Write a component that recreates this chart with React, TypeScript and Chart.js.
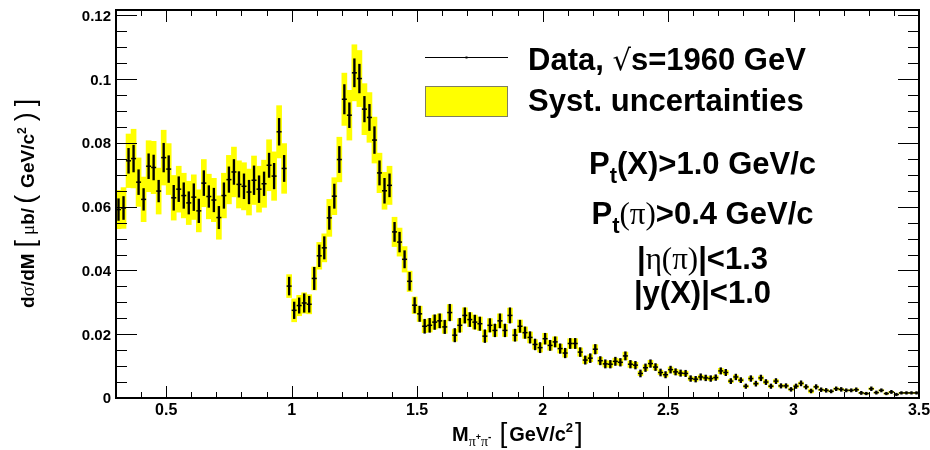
import { useEffect, useRef } from 'react';
import { Chart, registerables } from 'chart.js';

Chart.register(...registerables);

// Histogram binning of the pi+pi- invariant mass (GeV/c^2)
const MASS_MIN = 0.3;
const MASS_MAX = 3.5;
const BIN_WIDTH = 0.02;
const SIGMA_MAX = 0.1217;

// dsigma/dM in microbarn per GeV/c^2, one value per 20 MeV bin (0.30 - 3.50)
const crossSection = [
  0.0591, 0.0596, 0.0744, 0.0751, 0.0677, 0.0623, 0.0727, 0.0723, 0.0649, 0.0754,
  0.0718, 0.0628, 0.0655, 0.0635, 0.0612, 0.0630, 0.0587, 0.0674, 0.0632, 0.0621,
  0.0566, 0.0635, 0.0685, 0.0709, 0.0670, 0.0664, 0.0646, 0.0683, 0.0655, 0.0672,
  0.0730, 0.0696, 0.0835, 0.0720, 0.0351, 0.0275, 0.0290, 0.0298, 0.0294, 0.0375,
  0.0446, 0.0471, 0.0565, 0.0633, 0.0748, 0.0937, 0.0887, 0.1020, 0.1002, 0.0906,
  0.0880, 0.0809, 0.0706, 0.0650, 0.0667, 0.0521, 0.0489, 0.0435, 0.0366, 0.0291,
  0.0264, 0.0225, 0.0228, 0.0238, 0.0242, 0.0223, 0.0268, 0.0197, 0.0228, 0.0259,
  0.0246, 0.0238, 0.0233, 0.0194, 0.0228, 0.0212, 0.0242, 0.0212, 0.0259, 0.0197,
  0.0225, 0.0205, 0.0190, 0.0168, 0.0158, 0.0186, 0.0165, 0.0176, 0.0155, 0.0141,
  0.0171, 0.0171, 0.0144, 0.0119, 0.0125, 0.0153, 0.0117, 0.0107, 0.0106, 0.0115,
  0.0112, 0.0132, 0.0106, 0.0103, 0.0077, 0.0095, 0.0108, 0.0097, 0.0080, 0.0073,
  0.0089, 0.0082, 0.0078, 0.0077, 0.0061, 0.0059, 0.0066, 0.0063, 0.0061, 0.0064,
  0.0085, 0.0080, 0.0053, 0.0066, 0.0056, 0.0037, 0.0061, 0.0045, 0.0063, 0.0050,
  0.0037, 0.0053, 0.0038, 0.0038, 0.0027, 0.0037, 0.0046, 0.0035, 0.0022, 0.0035,
  0.0026, 0.0024, 0.0021, 0.0029, 0.0027, 0.0024, 0.0024, 0.0026, 0.0016, 0.0014,
  0.0029, 0.0017, 0.0024, 0.0014, 0.0019, 0.0011, 0.0016, 0.0016, 0.0016, 0.0016,
];

// Statistical uncertainty per bin
const statError = [
  0.0034, 0.0036, 0.0039, 0.0042, 0.0039, 0.0034, 0.0039, 0.0039, 0.0034, 0.0045,
  0.0042, 0.0039, 0.0039, 0.0040, 0.0035, 0.0042, 0.0037, 0.0039, 0.0034, 0.0037,
  0.0035, 0.0040, 0.0040, 0.0039, 0.0040, 0.0039, 0.0037, 0.0045, 0.0042, 0.0037,
  0.0038, 0.0040, 0.0042, 0.0041, 0.0028, 0.0026, 0.0024, 0.0029, 0.0025, 0.0035,
  0.0034, 0.0035, 0.0036, 0.0038, 0.0041, 0.0046, 0.0039, 0.0044, 0.0045, 0.0040,
  0.0041, 0.0042, 0.0038, 0.0039, 0.0036, 0.0030, 0.0031, 0.0027, 0.0028, 0.0024,
  0.0024, 0.0022, 0.0022, 0.0023, 0.0022, 0.0021, 0.0026, 0.0021, 0.0022, 0.0024,
  0.0022, 0.0022, 0.0021, 0.0020, 0.0021, 0.0020, 0.0022, 0.0020, 0.0024, 0.0019,
  0.0019, 0.0018, 0.0018, 0.0017, 0.0016, 0.0017, 0.0016, 0.0016, 0.0015, 0.0015,
  0.0016, 0.0016, 0.0014, 0.0013, 0.0014, 0.0015, 0.0013, 0.0013, 0.0012, 0.0013,
  0.0012, 0.0013, 0.0012, 0.0012, 0.0011, 0.0012, 0.0012, 0.0011, 0.0011, 0.0010,
  0.0011, 0.0010, 0.0010, 0.0010, 0.0009, 0.0009, 0.0010, 0.0009, 0.0009, 0.0009,
  0.0010, 0.0010, 0.0008, 0.0009, 0.0008, 0.0007, 0.0009, 0.0008, 0.0009, 0.0008,
  0.0007, 0.0008, 0.0007, 0.0007, 0.0006, 0.0007, 0.0008, 0.0007, 0.0006, 0.0007,
  0.0006, 0.0006, 0.0005, 0.0006, 0.0006, 0.0005, 0.0005, 0.0006, 0.0005, 0.0004,
  0.0006, 0.0005, 0.0005, 0.0004, 0.0005, 0.0004, 0.0004, 0.0004, 0.0004, 0.0004,
];

// Systematic uncertainty per bin
const systError = [
  0.0060, 0.0064, 0.0084, 0.0092, 0.0076, 0.0070, 0.0080, 0.0082, 0.0072, 0.0086,
  0.0080, 0.0070, 0.0072, 0.0070, 0.0068, 0.0070, 0.0066, 0.0074, 0.0070, 0.0068,
  0.0068, 0.0070, 0.0076, 0.0078, 0.0074, 0.0074, 0.0072, 0.0076, 0.0072, 0.0074,
  0.0080, 0.0076, 0.0082, 0.0078, 0.0036, 0.0036, 0.0032, 0.0032, 0.0030, 0.0036,
  0.0042, 0.0044, 0.0058, 0.0058, 0.0070, 0.0082, 0.0078, 0.0088, 0.0088, 0.0080,
  0.0078, 0.0072, 0.0062, 0.0058, 0.0060, 0.0046, 0.0044, 0.0040, 0.0032, 0.0026,
  0.0024, 0.0020, 0.0021, 0.0022, 0.0022, 0.0020, 0.0025, 0.0019, 0.0021, 0.0024,
  0.0022, 0.0022, 0.0021, 0.0018, 0.0021, 0.0019, 0.0022, 0.0019, 0.0023, 0.0018,
  0.0020, 0.0018, 0.0017, 0.0015, 0.0014, 0.0017, 0.0015, 0.0016, 0.0014, 0.0013,
  0.0015, 0.0015, 0.0013, 0.0011, 0.0011, 0.0014, 0.0011, 0.0010, 0.0010, 0.0010,
  0.0010, 0.0012, 0.0010, 0.0009, 0.0007, 0.0009, 0.0010, 0.0009, 0.0007, 0.0007,
  0.0008, 0.0008, 0.0007, 0.0007, 0.0006, 0.0006, 0.0006, 0.0006, 0.0006, 0.0006,
  0.0008, 0.0007, 0.0005, 0.0006, 0.0005, 0.0004, 0.0006, 0.0004, 0.0006, 0.0005,
  0.0004, 0.0005, 0.0004, 0.0004, 0.0003, 0.0004, 0.0004, 0.0003, 0.0006, 0.0003,
  0.0003, 0.0003, 0.0002, 0.0003, 0.0003, 0.0002, 0.0002, 0.0003, 0.0002, 0.0002,
  0.0003, 0.0002, 0.0002, 0.0002, 0.0002, 0.0001, 0.0002, 0.0002, 0.0002, 0.0002,
];

const massTicks = [0.5, 1, 1.5, 2, 2.5, 3, 3.5];
const massTickLabels = ['0.5', '1', '1.5', '2', '2.5', '3', '3.5'];
const sigmaTicks = [0, 0.02, 0.04, 0.06, 0.08, 0.1, 0.12];
const sigmaTickLabels = ['0', '0.02', '0.04', '0.06', '0.08', '0.1', '0.12'];

const binCenters = crossSection.map((_, i) => +(MASS_MIN + BIN_WIDTH * (i + 0.5)).toFixed(3));

const SANS = '"Liberation Sans", Arial, Helvetica, sans-serif';
const SERIF = '"Liberation Serif", "Times New Roman", serif';
const bold = (px: number) => `bold ${px}px ${SANS}`;
const greek = (px: number) => `${px}px ${SERIF}`;
const bracket = (px: number) => `${px}px ${SANS}`;

type Run = { text: string; font: string; dy?: number; gap?: number };

function runsWidth(ctx: CanvasRenderingContext2D, runs: Run[]) {
  let w = 0;
  for (const r of runs) {
    ctx.font = r.font;
    w += (r.gap ?? 0) + ctx.measureText(r.text).width;
  }
  return w;
}

function drawRuns(
  ctx: CanvasRenderingContext2D,
  runs: Run[],
  x: number,
  y: number,
  align: 'left' | 'center' | 'right' = 'left',
) {
  const w = runsWidth(ctx, runs);
  let cx = align === 'center' ? x - w / 2 : align === 'right' ? x - w : x;
  ctx.textAlign = 'left';
  ctx.textBaseline = 'alphabetic';
  for (const r of runs) {
    cx += r.gap ?? 0;
    ctx.font = r.font;
    ctx.fillText(r.text, cx, y + (r.dy ?? 0));
    cx += ctx.measureText(r.text).width;
  }
}

// Frame, inward ticks, labels, legend and cut annotations in the ROOT style
const rootStyle = {
  id: 'rootStyle',
  afterDraw(chart: any) {
    const { ctx, chartArea: a, scales } = chart;
    const xs = scales.x;
    const ys = scales.y;
    ctx.save();

    // tick marks on all four sides
    ctx.strokeStyle = '#000';
    ctx.lineWidth = 1;
    ctx.beginPath();
    for (let k = 4; k <= 34; k++) {
      const px = Math.round(xs.getPixelForValue(k / 10)) + 0.5;
      const len = k % 5 === 0 ? 12 : 6;
      ctx.moveTo(px, a.bottom);
      ctx.lineTo(px, a.bottom - len);
      ctx.moveTo(px, a.top);
      ctx.lineTo(px, a.top + len);
    }
    for (let k = 1; k <= 24; k++) {
      const py = Math.round(ys.getPixelForValue(k * 0.005)) + 0.5;
      const len = k % 4 === 0 ? 21 : 11;
      ctx.moveTo(a.left, py);
      ctx.lineTo(a.left + len, py);
      ctx.moveTo(a.right, py);
      ctx.lineTo(a.right - len, py);
    }
    ctx.stroke();

    // frame
    ctx.lineWidth = 2;
    ctx.strokeRect(a.left, a.top, a.right - a.left, a.bottom - a.top);

    ctx.fillStyle = '#000';
    // x tick labels
    ctx.font = bold(16);
    ctx.textAlign = 'center';
    ctx.textBaseline = 'alphabetic';
    massTicks.forEach((v, i) => {
      ctx.fillText(massTickLabels[i], xs.getPixelForValue(v), 415);
    });
    // y tick labels
    ctx.font = bold(15);
    ctx.textAlign = 'right';
    sigmaTicks.forEach((v, i) => {
      ctx.fillText(sigmaTickLabels[i], a.left - 5, ys.getPixelForValue(v) + 5.4);
    });

    // x axis title
    drawRuns(
      ctx,
      [
        { text: 'M', font: bold(20) },
        { text: 'π', font: greek(14), dy: 5 },
        { text: '+', font: bold(9), dy: -1 },
        { text: 'π', font: greek(14), dy: 5 },
        { text: '-', font: bold(10), dy: -1 },
        { text: '[', font: bracket(28), dy: 1, gap: 8 },
        { text: 'GeV/c', font: bold(20), gap: 2 },
        { text: '2', font: bold(13), dy: -9 },
        { text: ']', font: bracket(28), dy: 1, gap: 2 },
      ],
      452,
      441,
    );

    // y axis title, rotated
    ctx.save();
    ctx.translate(33.5, 308);
    ctx.rotate(-Math.PI / 2);
    drawRuns(
      ctx,
      [
        { text: 'd', font: bold(19) },
        { text: 'σ', font: greek(19) },
        { text: '/dM', font: bold(19) },
        { text: '[', font: bracket(27), gap: 6 },
        { text: 'μ', font: greek(19), gap: 5 },
        { text: 'b/', font: bold(19) },
        { text: '(', font: bracket(27), gap: 4 },
        { text: 'GeV/c', font: bold(19), gap: 7 },
        { text: '2', font: bold(12), dy: -8 },
        { text: ')', font: bracket(27), gap: 6 },
        { text: ']', font: bracket(27), gap: 6 },
      ],
      0,
      0,
    );
    ctx.restore();

    // legend
    ctx.strokeStyle = '#000';
    ctx.lineWidth = 1;
    ctx.beginPath();
    ctx.moveTo(425, 57.5);
    ctx.lineTo(508, 57.5);
    ctx.stroke();
    ctx.fillRect(465.5, 56.5, 2, 2);
    ctx.fillStyle = '#ffff00';
    ctx.fillRect(425, 86, 83, 31);
    ctx.strokeStyle = '#7f7f60';
    ctx.strokeRect(425.5, 86.5, 82, 30);
    ctx.fillStyle = '#000';
    drawRuns(
      ctx,
      [
        { text: 'Data, ', font: bold(31) },
        { text: '√', font: `29px "DejaVu Sans", ${SANS}` },
        { text: 's=1960 GeV', font: bold(31) },
      ],
      528,
      69.5,
    );
    drawRuns(ctx, [{ text: 'Syst. uncertainties', font: bold(31) }], 528, 110.7);

    // kinematic cuts
    const cx = 702.5;
    drawRuns(
      ctx,
      [
        { text: 'P', font: bold(31) },
        { text: 't', font: bold(22), dy: 9 },
        { text: '(X)>1.0 GeV/c', font: bold(31) },
      ],
      cx,
      174,
      'center',
    );
    drawRuns(
      ctx,
      [
        { text: 'P', font: bold(31) },
        { text: 't', font: bold(22), dy: 9 },
        { text: '(π)', font: greek(31) },
        { text: '>0.4 GeV/c', font: bold(31) },
      ],
      cx,
      224,
      'center',
    );
    drawRuns(
      ctx,
      [
        { text: '|', font: bold(31) },
        { text: 'η(π)', font: greek(31) },
        { text: '|<1.3', font: bold(31) },
      ],
      cx,
      269,
      'center',
    );
    drawRuns(ctx, [{ text: '|y(X)|<1.0', font: bold(31) }], cx, 303, 'center');

    ctx.restore();
  },
};

export default function App() {
  const canvasRef = useRef<HTMLCanvasElement>(null);

  useEffect(() => {
    const canvas = canvasRef.current;
    if (!canvas) return;

    const points = binCenters.map((x, i) => ({ x, y: crossSection[i] }));
    const statBars = binCenters.map((x, i) => ({
      x,
      y: [crossSection[i] - statError[i], crossSection[i] + statError[i]],
    }));
    const systBoxes = binCenters.map((x, i) => ({
      x,
      y: [crossSection[i] - systError[i], crossSection[i] + systError[i]],
    }));

    const chart = new Chart(canvas, {
      type: 'bar',
      data: {
        datasets: [
          {
            type: 'scatter',
            label: 'Data',
            data: points,
            pointStyle: 'line',
            pointRadius: 2.5,
            pointHoverRadius: 2.5,
            pointBorderColor: '#000',
            pointBorderWidth: 1.5,
            pointBackgroundColor: '#000',
            order: 1,
          } as any,
          {
            type: 'bar',
            label: 'Stat',
            data: statBars,
            backgroundColor: '#000',
            barThickness: 1.7,
            grouped: false,
            order: 2,
          } as any,
          {
            type: 'bar',
            label: 'Syst. uncertainties',
            data: systBoxes,
            backgroundColor: '#ffff00',
            barPercentage: 1,
            categoryPercentage: 1,
            grouped: false,
            order: 3,
          } as any,
        ],
      },
      options: {
        responsive: false,
        maintainAspectRatio: false,
        animation: false,
        events: [],
        layout: { padding: { left: 116, right: 11, top: 10, bottom: 52 } },
        scales: {
          x: { type: 'linear', min: MASS_MIN, max: MASS_MAX, offset: false, display: false },
          y: { type: 'linear', min: 0, max: SIGMA_MAX, display: false },
        },
        plugins: {
          legend: { display: false },
          tooltip: { enabled: false },
        },
      },
      plugins: [rootStyle],
    });

    return () => chart.destroy();
  }, []);

  return (
    <div style={{ position: 'absolute', left: 0, top: 0, width: 930, height: 450, background: '#fff' }}>
      <canvas ref={canvasRef} width={930} height={450} style={{ display: 'block', width: 930, height: 450 }} />
    </div>
  );
}
